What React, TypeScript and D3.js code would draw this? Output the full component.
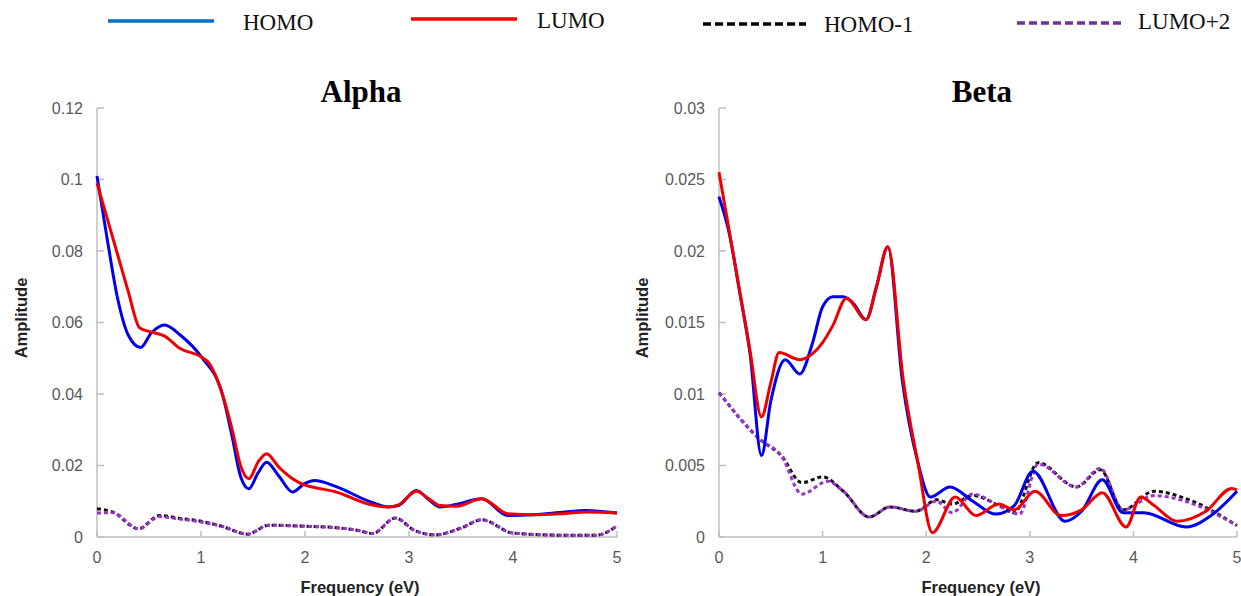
import * as d3 from "d3";
import React from "react";

type Pt = [number, number];

// Alpha panel (frequency eV, amplitude)
const alphaHomo: Pt[] = [
  [0, 0.101], [0.1, 0.083], [0.2, 0.0665], [0.3, 0.0565], [0.42, 0.053], [0.52, 0.057],
  [0.65, 0.0593], [0.8, 0.0565], [1.0, 0.0505], [1.21, 0.0395], [1.3, 0.028], [1.38, 0.017],
  [1.46, 0.0135], [1.55, 0.018], [1.63, 0.0209], [1.75, 0.017], [1.88, 0.0126], [2.0, 0.015],
  [2.09, 0.0158], [2.3, 0.0141], [2.6, 0.0102], [2.8, 0.0084], [2.9, 0.0088], [3.07, 0.013],
  [3.2, 0.0102], [3.3, 0.0084], [3.45, 0.0091], [3.7, 0.0107], [3.95, 0.006], [4.2, 0.0062],
  [4.5, 0.007], [4.7, 0.0074], [5, 0.0067],
];
const alphaLumo: Pt[] = [
  [0, 0.099], [0.1, 0.0889], [0.2, 0.0788], [0.3, 0.0687], [0.41, 0.0585], [0.5, 0.0575],
  [0.65, 0.0562], [0.8, 0.0527], [1.0, 0.0504], [1.08, 0.0485], [1.21, 0.0395], [1.3, 0.03],
  [1.38, 0.02], [1.46, 0.0163], [1.55, 0.021], [1.63, 0.0233], [1.75, 0.0195], [1.88, 0.0163],
  [2.0, 0.0145], [2.1, 0.0138], [2.3, 0.0126], [2.6, 0.0093], [2.8, 0.0084], [2.9, 0.009],
  [3.07, 0.0128], [3.2, 0.0105], [3.3, 0.0088], [3.45, 0.0086], [3.7, 0.0107], [3.95, 0.0065],
  [4.2, 0.0062], [4.5, 0.0066], [4.7, 0.007], [5, 0.0067],
];
const alphaHomo1: Pt[] = [
  [0, 0.0079], [0.15, 0.007], [0.4, 0.0023], [0.6, 0.006], [0.8, 0.0052], [1.0, 0.0044],
  [1.2, 0.003], [1.45, 0.0008], [1.65, 0.0033], [2.0, 0.003], [2.3, 0.0026], [2.5, 0.0019],
  [2.65, 0.001], [2.87, 0.0053], [3.05, 0.0019], [3.25, 0.0006], [3.5, 0.0025], [3.7, 0.0048],
  [4.0, 0.0011], [4.5, 0.0005], [4.8, 0.0005], [5, 0.0031],
];
const alphaLumo2: Pt[] = [
  [0, 0.0067], [0.15, 0.0068], [0.4, 0.0023], [0.6, 0.0057], [0.8, 0.005], [1.0, 0.0042],
  [1.2, 0.003], [1.45, 0.0008], [1.65, 0.0033], [2.0, 0.003], [2.3, 0.0026], [2.5, 0.0019],
  [2.65, 0.001], [2.87, 0.0053], [3.05, 0.0019], [3.25, 0.0006], [3.5, 0.0025], [3.7, 0.0048],
  [4.0, 0.0011], [4.5, 0.0005], [4.8, 0.0005], [5, 0.0031],
];

// Beta panel
const betaHomo: Pt[] = [
  [0, 0.0238], [0.1, 0.0212], [0.2, 0.0171], [0.3, 0.0128], [0.41, 0.0057], [0.5, 0.0095],
  [0.64, 0.0124], [0.78, 0.0114], [0.9, 0.0135], [1.0, 0.0161], [1.1, 0.0168], [1.2, 0.0168],
  [1.3, 0.0163], [1.42, 0.0152], [1.52, 0.0175], [1.63, 0.0203], [1.77, 0.0109], [1.92, 0.0052],
  [2.04, 0.0028], [2.23, 0.0035], [2.45, 0.0025], [2.67, 0.0016], [2.85, 0.0022], [3.03, 0.0046],
  [3.34, 0.0011], [3.5, 0.0018], [3.7, 0.004], [3.9, 0.0017], [4.1, 0.0017], [4.51, 0.0007],
  [4.75, 0.0015], [5, 0.0032],
];
const betaLumo: Pt[] = [
  [0, 0.0255], [0.2, 0.0172], [0.3, 0.013], [0.41, 0.0084], [0.5, 0.0108],
  [0.58, 0.0129], [0.78, 0.0124], [0.9, 0.0128], [1.0, 0.0136], [1.1, 0.0148], [1.23, 0.0167],
  [1.42, 0.0152], [1.52, 0.0175], [1.63, 0.0203], [1.78, 0.0109], [1.92, 0.0052], [2.06, 0.0003],
  [2.28, 0.0028], [2.48, 0.0015], [2.7, 0.0023], [2.85, 0.0019], [3.05, 0.0032], [3.3, 0.0015],
  [3.5, 0.0019], [3.7, 0.0031], [3.93, 0.0007], [4.07, 0.0028], [4.2, 0.0022], [4.42, 0.0011],
  [4.7, 0.0018], [4.95, 0.0034], [5, 0.0033],
];
const betaHomo1: Pt[] = [
  [0, 0.0101], [0.4, 0.0068], [0.6, 0.0057], [0.8, 0.0038], [1.0, 0.0042], [1.2, 0.0032],
  [1.45, 0.0014], [1.65, 0.0021], [1.9, 0.0018], [2.1, 0.0026], [2.25, 0.0023], [2.45, 0.0029],
  [2.7, 0.0022], [2.85, 0.0017], [3.08, 0.0052], [3.45, 0.0035], [3.68, 0.0047], [3.9, 0.0019],
  [4.2, 0.0032], [4.5, 0.0027], [5, 0.0008],
];
const betaLumo2: Pt[] = [
  [0, 0.0101], [0.4, 0.0068], [0.6, 0.0057], [0.8, 0.003], [1.05, 0.0039], [1.2, 0.0032],
  [1.45, 0.0014], [1.65, 0.0021], [1.9, 0.0018], [2.1, 0.0025], [2.25, 0.0017], [2.45, 0.003],
  [2.7, 0.0022], [2.9, 0.0016], [3.08, 0.0051], [3.45, 0.0035], [3.68, 0.0048], [3.9, 0.0019],
  [4.2, 0.0029], [4.5, 0.0025], [5, 0.0008],
];

const xTicks = [0, 1, 2, 3, 4, 5];
const alphaYTicks = [0, 0.02, 0.04, 0.06, 0.08, 0.1, 0.12];
const betaYTicks = [0, 0.005, 0.01, 0.015, 0.02, 0.025, 0.03];

const legendItems = [
  { label: "HOMO", color: "#0070C0", dash: "", x1: 108, x2: 214, ly: 21, tx: 243, ty: 30 },
  { label: "LUMO", color: "#FF0000", dash: "", x1: 411, x2: 517, ly: 19, tx: 537, ty: 28 },
  { label: "HOMO-1", color: "#000000", dash: "8,4", x1: 703, x2: 806, ly: 24, tx: 824, ty: 32 },
  { label: "LUMO+2", color: "#7030A0", dash: "8,4", x1: 1017, x2: 1122, ly: 23, tx: 1138, ty: 29 },
];

const tickFont = "'Liberation Sans', Arial, sans-serif";
const serif = "'Liberation Serif', 'Times New Roman', serif";

const Panel = ({
  title,
  left,
  right,
  yMax,
  yTicks,
  labelX,
  homo,
  lumo,
  homo1,
  lumo2,
}: {
  title: string;
  left: number;
  right: number;
  yMax: number;
  yTicks: number[];
  labelX: number;
  homo: Pt[];
  lumo: Pt[];
  homo1: Pt[];
  lumo2: Pt[];
}) => {
  const top = 108;
  const bottom = 537;
  const x = d3.scaleLinear([0, 5], [left, right]);
  const y = d3.scaleLinear([0, yMax], [bottom, top]);
  const line = d3
    .line<Pt>()
    .x((d) => x(d[0]))
    .y((d) => y(d[1]))
    .curve(d3.curveMonotoneX);
  const fmt = (v: number) => String(+v.toFixed(4));
  const cx = (left + right) / 2;

  return (
    <g>
      <text x={cx + 4} y={102} textAnchor="middle" fontFamily={serif} fontWeight="bold" fontSize={31} fill="#000">
        {title}
      </text>
      {/* axes */}
      <line x1={left} x2={left} y1={top} y2={bottom} stroke="#BFBFBF" strokeWidth={1.5} />
      <line x1={left} x2={right} y1={bottom} y2={bottom} stroke="#BFBFBF" strokeWidth={1.5} />
      {yTicks.map((t) => (
        <g key={t}>
          <line x1={left} x2={left + 7} y1={y(t)} y2={y(t)} stroke="#BFBFBF" strokeWidth={1.5} />
          <text x={left - 14} y={y(t)} dy="0.35em" textAnchor="end" fontFamily={tickFont} fontSize={16} fill="#595959">
            {fmt(t)}
          </text>
        </g>
      ))}
      {xTicks.map((t) => (
        <g key={t}>
          <line x1={x(t)} x2={x(t)} y1={bottom} y2={bottom - 6} stroke="#BFBFBF" strokeWidth={1.5} />
          <text x={x(t)} y={bottom + 26} textAnchor="middle" fontFamily={tickFont} fontSize={16} fill="#595959">
            {t}
          </text>
        </g>
      ))}
      <text
        transform={`translate(${labelX},318) rotate(-90)`}
        textAnchor="middle"
        fontFamily={tickFont}
        fontWeight="bold"
        fontSize={16.5}
        fill="#222"
      >
        Amplitude
      </text>
      <text x={cx + 3} y={593} textAnchor="middle" fontFamily={tickFont} fontWeight="bold" fontSize={16.5} fill="#222">
        Frequency (eV)
      </text>
      {/* series */}
      <path d={line(homo1) ?? undefined} fill="none" stroke="#111" strokeWidth={3} strokeDasharray="4,3" />
      <path d={line(lumo2) ?? undefined} fill="none" stroke="#9933CC" strokeWidth={3} strokeDasharray="4,3" />
      <path d={line(homo) ?? undefined} fill="none" stroke="#0000EE" strokeWidth={3} />
      <path d={line(lumo) ?? undefined} fill="none" stroke="#EE0000" strokeWidth={3} />
    </g>
  );
};

export default function App() {
  return (
    <svg
      width={1241}
      height={596}
      style={{ position: "absolute", left: 0, top: 0, background: "#fff" }}
    >
      <rect width={1241} height={596} fill="#fff" />
      {legendItems.map((it) => (
        <g key={it.label}>
          <line
            x1={it.x1}
            x2={it.x2}
            y1={it.ly}
            y2={it.ly}
            stroke={it.color}
            strokeWidth={3.5}
            strokeDasharray={it.dash || undefined}
          />
          <text x={it.tx} y={it.ty} fontFamily={serif} fontSize={23} fill="#111">
            {it.label}
          </text>
        </g>
      ))}
      <Panel
        title="Alpha"
        left={97}
        right={617}
        yMax={0.12}
        yTicks={alphaYTicks}
        labelX={27}
        homo={alphaHomo}
        lumo={alphaLumo}
        homo1={alphaHomo1}
        lumo2={alphaLumo2}
      />
      <Panel
        title="Beta"
        left={719}
        right={1237}
        yMax={0.03}
        yTicks={betaYTicks}
        labelX={648}
        homo={betaHomo}
        lumo={betaLumo}
        homo1={betaHomo1}
        lumo2={betaLumo2}
      />
    </svg>
  );
}
